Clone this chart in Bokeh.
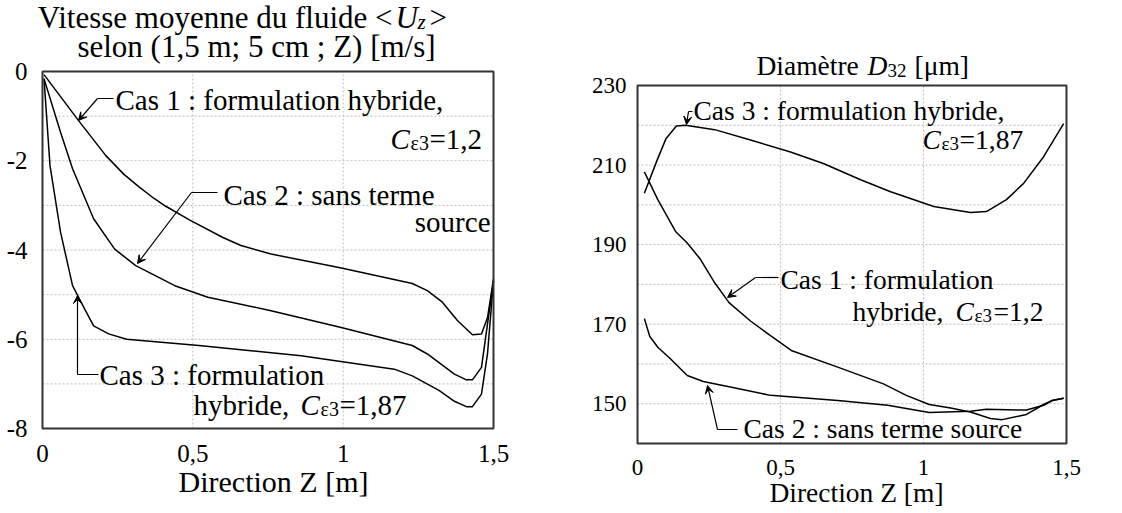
from bokeh.plotting import figure
from bokeh.layouts import row
from bokeh.models import (Range1d, FixedTicker, Label, Arrow, VeeHead, CustomJSTickFormatter,
                          BoxAnnotation)
from bokeh.embed import file_html
from bokeh.resources import INLINE

# ---------------- data ----------------
# Left panel: mean fluid velocity <U_z> along (1.5 m; 5 cm; Z) [m/s]
z_u_cas1 = [0.005, 0.12, 0.21, 0.27, 0.32, 0.37, 0.41, 0.49, 0.60, 0.66, 0.76, 0.99,
            1.23, 1.28, 1.33, 1.38, 1.43, 1.46, 1.48, 1.50]
u_cas1 = [-0.07, -1.10, -1.88, -2.30, -2.58, -2.84, -3.02, -3.33, -3.72, -3.90, -4.09, -4.40,
          -4.75, -4.91, -5.17, -5.58, -5.90, -5.88, -5.52, -4.65]

z_u_cas2 = [0.005, 0.06, 0.10, 0.17, 0.24, 0.31, 0.44, 0.55, 0.76, 0.99, 1.23, 1.28,
            1.37, 1.41, 1.43, 1.46, 1.50]
u_cas2 = [-0.16, -1.36, -2.18, -3.30, -3.98, -4.35, -4.80, -5.06, -5.36, -5.73, -6.14, -6.33,
          -6.78, -6.91, -6.91, -6.63, -4.69]

z_u_cas3 = [0.005, 0.025, 0.06, 0.10, 0.14, 0.17, 0.22, 0.28, 0.52, 0.86, 1.17, 1.23,
            1.32, 1.37, 1.41, 1.43, 1.46, 1.48, 1.50]
u_cas3 = [-0.16, -2.11, -3.60, -4.80, -5.32, -5.70, -5.88, -6.00, -6.14, -6.37, -6.67, -6.82,
          -7.15, -7.39, -7.51, -7.51, -7.23, -6.33, -4.69]

# Right panel: diameter D32 [um]
z_d_cas1 = [0.024, 0.071, 0.133, 0.174, 0.22, 0.27, 0.32, 0.395, 0.465, 0.54, 0.70, 0.86,
            0.94, 1.02, 1.095, 1.164, 1.234, 1.275, 1.36, 1.42, 1.45, 1.49]
d_cas1 = [208.3, 201.3, 193.3, 190.4, 186.3, 180.4, 175.4, 170.8, 167.1, 163.3, 159.2, 155.0,
          152.1, 149.8, 148.9, 147.9, 146.3, 146.0, 147.3, 149.8, 150.8, 151.4]

z_d_cas2 = [0.024, 0.043, 0.071, 0.115, 0.174, 0.23, 0.35, 0.465, 0.70, 0.875, 1.02, 1.164,
            1.22, 1.36, 1.42, 1.45, 1.49]
d_cas2 = [171.4, 166.9, 164.2, 161.3, 157.1, 155.6, 153.8, 152.1, 150.8, 149.6, 147.8, 148.1,
          148.6, 148.4, 149.6, 150.8, 151.4]

z_d_cas3 = [0.024, 0.069, 0.10, 0.136, 0.168, 0.27, 0.395, 0.535, 0.65, 0.78, 0.885, 1.036,
            1.164, 1.22, 1.29, 1.35, 1.42, 1.49]
d_cas3 = [202.9, 211.3, 216.7, 219.8, 220.0, 218.9, 216.3, 213.3, 210.4, 206.3, 203.3, 199.6,
          198.1, 198.3, 201.3, 205.4, 212.1, 220.4]

z_range = (0, 1.5)
u_range = (-8, 0)
d_range = (140, 230)
x_ticks = [0, 0.5, 1, 1.5]
x_tick_labels = ["0", "0,5", "1", "1,5"]
x_grid = [0.5, 1.0]
u_ticks = [0, -2, -4, -6, -8]
u_tick_labels = ["0", "-2", "-4", "-6", "-8"]
u_grid = [-1, -2, -3, -4, -5, -6, -7]
d_ticks = [150, 170, 190, 210, 230]
d_tick_labels = ["150", "170", "190", "210", "230"]
d_grid = [150, 160, 170, 180, 190, 200, 210, 220]

FONT = "Liberation Serif"
H = 510
BASE_SHIFT = 9   # rendered labels sit this many px below the requested baseline


def tick_fmt(tvals, tlabels):
    return CustomJSTickFormatter(args=dict(tvals=list(tvals), tlabels=list(tlabels)), code="""
        for (let i = 0; i < tvals.length; i++) {
            if (Math.abs(tvals[i] - tick) < 1e-9) { return tlabels[i]; }
        }
        return String(tick);
    """)


def make_fig(width, page_left, X, Y, xr, yr, yt, ylabels, ygrid, tick_size, ystand, xstand):
    # the frame fills the whole canvas; the data box is drawn as an annotation
    p = figure(width=width, height=H,
               x_range=Range1d(X(page_left), X(page_left + width)),
               y_range=Range1d(Y(H), Y(0)),
               output_backend="svg", toolbar_location=None,
               min_border=0, min_border_left=0, min_border_right=0,
               min_border_top=0, min_border_bottom=0)
    p.outline_line_color = None
    p.background_fill_color = "white"
    p.border_fill_color = "white"
    p.xgrid.visible = False
    p.ygrid.visible = False
    for ax in (p.xaxis[0], p.yaxis[0]):
        ax.axis_line_color = None
        ax.major_tick_line_color = None
        ax.minor_tick_line_color = None
        ax.major_label_text_font = FONT
        ax.major_label_text_font_size = tick_size
        ax.major_label_text_color = "black"
    p.xaxis[0].fixed_location = yr[0]
    p.yaxis[0].fixed_location = xr[0]
    p.xaxis[0].ticker = FixedTicker(ticks=x_ticks)
    p.xaxis[0].formatter = tick_fmt(x_ticks, x_tick_labels)
    p.yaxis[0].ticker = FixedTicker(ticks=yt)
    p.yaxis[0].formatter = tick_fmt(yt, ylabels)
    p.xaxis[0].major_label_standoff = xstand
    p.yaxis[0].major_label_standoff = ystand
    # grid lines inside the data box
    p.segment(x0=[xr[0]] * len(ygrid), y0=ygrid, x1=[xr[1]] * len(ygrid), y1=ygrid,
              line_color="#bdbdbd", line_dash="2 2", line_width=1)
    p.segment(x0=x_grid, y0=[yr[0]] * len(x_grid), x1=x_grid, y1=[yr[1]] * len(x_grid),
              line_color="#bdbdbd", line_dash="2 2", line_width=1)
    return p


def add_box(p, xr, yr):
    p.add_layout(BoxAnnotation(left=xr[0], right=xr[1], bottom=yr[0], top=yr[1],
                               fill_color=None, fill_alpha=0, line_color="#333333",
                               line_width=2, line_alpha=1))


def txt(p, X, Y, px, py, s, size, align="left", style="normal"):
    p.add_layout(Label(x=X(px), y=Y(py - BASE_SHIFT), text=s, text_font=FONT,
                       text_font_size=f"{size}px", text_align=align,
                       text_baseline="alphabetic", text_font_style=style, text_color="black"))


def leader(p, X, Y, pts):
    n = len(pts)
    for i in range(n - 1):
        (x0, y0), (x1, y1) = pts[i], pts[i + 1]
        end = VeeHead(size=8, fill_color="black", line_color="black", line_width=1) if i == n - 2 else None
        p.add_layout(Arrow(x_start=X(x0), y_start=Y(y0), x_end=X(x1), y_end=Y(y1), end=end,
                           line_width=1.2, line_color="black"))


# ---------------- left panel ----------------
Lx = lambda px: (px - 42) / 451 * 1.5
Ly = lambda py: -(py - 71) / 357 * 8

p1 = make_fig(552, 0, Lx, Ly, z_range, u_range, u_ticks, u_tick_labels, u_grid, "25px", 9, 10)
for zs, vs in ((z_u_cas1, u_cas1), (z_u_cas2, u_cas2), (z_u_cas3, u_cas3)):
    p1.line(zs, vs, line_color="black", line_width=1.5)
add_box(p1, z_range, u_range)

txt(p1, Lx, Ly, 392, 26, "Vitesse moyenne du fluide <", 31, "right")
txt(p1, Lx, Ly, 395, 26, "U", 31, "left", "italic")
txt(p1, Lx, Ly, 417, 30, "z", 21, "left", "italic")
txt(p1, Lx, Ly, 429, 26, ">", 31, "left")
txt(p1, Lx, Ly, 256, 55, "selon (1,5 m; 5 cm ; Z) [m/s]", 31, "center")
txt(p1, Lx, Ly, 273, 490, "Direction Z [m]", 30, "center")

txt(p1, Lx, Ly, 115, 108, "Cas 1 : formulation hybride,", 29)
txt(p1, Lx, Ly, 390, 147, "C", 29, "left", "italic")
txt(p1, Lx, Ly, 410, 151, "\u03b53", 20, "left")
txt(p1, Lx, Ly, 429, 147, "=1,2", 29)
leader(p1, Lx, Ly, [(113, 98), (97, 98), (78, 120)])

txt(p1, Lx, Ly, 223, 203, "Cas 2 : sans terme", 29)
txt(p1, Lx, Ly, 490, 230, "source", 29, "right")
leader(p1, Lx, Ly, [(217, 192), (191, 192), (137, 263)])

txt(p1, Lx, Ly, 99, 383, "Cas 3 : formulation", 29)
txt(p1, Lx, Ly, 193, 413, "hybride,", 29)
txt(p1, Lx, Ly, 300, 413, "C", 29, "left", "italic")
txt(p1, Lx, Ly, 320, 417, "\u03b53", 20, "left")
txt(p1, Lx, Ly, 339, 413, "=1,87", 29)
leader(p1, Lx, Ly, [(98, 374), (77, 374), (77, 295)])

# ---------------- right panel ----------------
Rx = lambda px: (px - 637) / 429 * 1.5
Ry = lambda py: 230 - (py - 85) / 358 * 90

p2 = make_fig(558, 552, Rx, Ry, z_range, d_range, d_ticks, d_tick_labels, d_grid, "23px", 5, 10)
for zs, vs in ((z_d_cas1, d_cas1), (z_d_cas2, d_cas2), (z_d_cas3, d_cas3)):
    p2.line(zs, vs, line_color="black", line_width=1.5)
add_box(p2, z_range, d_range)

txt(p2, Rx, Ry, 756, 74, "Diamètre", 27.5)
txt(p2, Rx, Ry, 867, 74, "D", 27.5, "left", "italic")
txt(p2, Rx, Ry, 887, 79, "32", 19)
txt(p2, Rx, Ry, 914, 74, "[\u03bcm]", 27.5)
txt(p2, Rx, Ry, 856, 501, "Direction Z [m]", 27.5, "center")

txt(p2, Rx, Ry, 693, 119, "Cas 3 : formulation hybride,", 27.5)
txt(p2, Rx, Ry, 922, 148, "C", 27.5, "left", "italic")
txt(p2, Rx, Ry, 941, 152, "\u03b53", 19)
txt(p2, Rx, Ry, 959, 148, "=1,87", 27.5)
leader(p2, Rx, Ry, [(692, 111), (688, 111), (686, 124)])

txt(p2, Rx, Ry, 780, 288, "Cas 1 : formulation", 27.5)
txt(p2, Rx, Ry, 852, 320, "hybride,", 27.5)
txt(p2, Rx, Ry, 955, 320, "C", 27.5, "left", "italic")
txt(p2, Rx, Ry, 974, 324, "\u03b53", 19)
txt(p2, Rx, Ry, 993, 320, "=1,2", 27.5)
leader(p2, Rx, Ry, [(778, 277), (755, 277), (727, 297)])

txt(p2, Rx, Ry, 743, 437, "Cas 2 : sans terme source", 27.5)
leader(p2, Rx, Ry, [(737, 429), (717, 429), (707, 385)])

layout = row(p1, p2)
open("out.html", "w").write(file_html(layout, INLINE, "chart"))
